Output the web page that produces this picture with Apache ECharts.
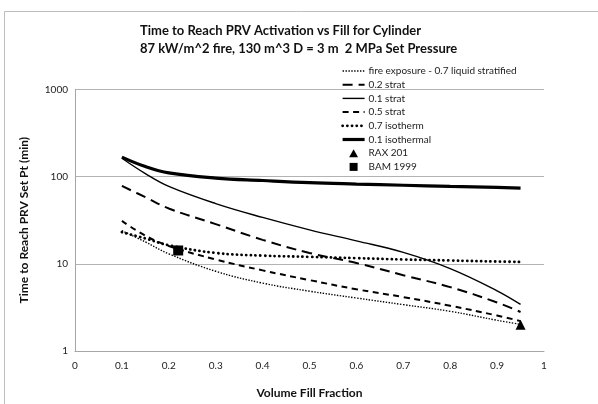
<!DOCTYPE html>
<html>
<head>
    <meta charset="utf-8">
    <title>Time to Reach PRV Activation vs Fill</title>
    <script src="https://cdn.jsdelivr.net/npm/echarts@6/dist/echarts.min.js"></script>
    <style>
        html, body { margin: 0; padding: 0; background: #fff; }
        #main { width: 598px; height: 404px; }
    </style>
</head>
<body>
<div id="main"></div>
<script>
    // 充填率 (x)
    var fill = [0.1, 0.15, 0.2, 0.3, 0.4, 0.5, 0.6, 0.7, 0.8, 0.9, 0.95];
    // 各曲线 (min)
    var fireExp07 = [24, 17.8, 13.0, 8.2, 6.0, 4.85, 4.05, 3.4, 2.85, 2.25, 2.02];
    var strat02 = [78, 58, 43, 28.5, 18.8, 13.3, 10.2, 7.4, 5.4, 3.6, 2.8];
    var strat01 = [162, 108, 77, 49, 34, 24.5, 18.3, 13.5, 8.8, 4.9, 3.42];
    var strat05 = [31, 21, 16, 11.2, 8.4, 6.5, 5.1, 4.15, 3.3, 2.55, 2.2];
    var iso07 = [23, 19.5, 16.3, 13.3, 12.4, 12.0, 11.6, 11.2, 10.9, 10.6, 10.5];
    var iso01 = [167, 130, 110, 96, 90, 85, 82, 79.5, 77, 75, 73.5];
    // 试验点
    var rax = [[0.95, 2.0]];
    var bam = [[0.22, 14.2]];
    var xTicks = ['0', '0.1', '0.2', '0.3', '0.4', '0.5', '0.6', '0.7', '0.8', '0.9', '1'];
    var names = [
        'fire exposure - 0.7 liquid stratified',
        '0.2 strat',
        '0.1 strat',
        '0.5 strat',
        '0.7 isotherm',
        '0.1 isothermal',
        'RAX 201',
        'BAM 1999'
    ];

    var FONT = 'Lato';

    // 线型
    var styles = [
        { width: 1.4, type: [1.4, 1.5], cap: 'butt' },
        { width: 2, type: [10, 6], cap: 'butt' },
        { width: 1.4, type: 'solid', cap: 'butt' },
        { width: 2, type: [6, 4.5], cap: 'butt' },
        { width: 2.8, type: [0.1, 4.6], cap: 'round' },
        { width: 3.2, type: 'solid', cap: 'butt' }
    ];

    function pairs(ys) {
        var out = [];
        for (var i = 0; i < fill.length; i++) {
            out.push([fill[i], ys[i]]);
        }
        return out;
    }

    function lineSeries(idx, ys) {
        var s = styles[idx];
        return {
            name: names[idx],
            type: 'line',
            data: pairs(ys),
            smooth: 0.4,
            symbol: 'none',
            itemStyle: { color: '#000' },
            lineStyle: { color: '#000', width: s.width, type: s.type, cap: s.cap }
        };
    }

    // 图例: 线条只显示线型, 散点用小图标
    var legendData = [];
    for (var k = 0; k < 6; k++) {
        legendData.push({
            name: names[k],
            itemStyle: { opacity: 0 },
            lineStyle: { color: '#000', width: styles[k].width, type: styles[k].type, cap: styles[k].cap }
        });
    }
    legendData.push({ name: names[6], icon: 'path://M5,0L10,9L0,9Z', itemStyle: { color: '#000' } });
    legendData.push({ name: names[7], icon: 'path://M0,0L9,0L9,9L0,9Z', itemStyle: { color: '#000' } });

    var myChart = echarts.init(document.getElementById('main'), null, { renderer: 'canvas' });

    var option = {
        animation: false,
        backgroundColor: '#fff',
        textStyle: { fontFamily: FONT },
        graphic: [
            {
                type: 'rect',
                shape: { x: 4.5, y: 11.5, width: 700, height: 500 },
                style: { fill: 'none', stroke: '#bdbdbd', lineWidth: 1 },
                silent: true
            },
            {
                type: 'text',
                left: 310 - 170, top: 22,
                style: {
                    text: 'Time to Reach PRV Activation vs Fill for Cylinder\n87 kW/m^2 fire, 130 m^3 D = 3 m  2 MPa Set Pressure',
                    font: 'bold 13px ' + FONT,
                    fill: '#111',
                    align: 'center',
                    lineHeight: 18,
                    width: 340
                }
            }
        ],
        legend: {
            orient: 'vertical',
            left: 341,
            top: 66,
            padding: 0,
            itemWidth: 22,
            itemHeight: 8,
            itemGap: 3.7,
            symbolKeepAspect: true,
            textStyle: { fontFamily: FONT, fontSize: 10, color: '#222', padding: [0, 0, 0, -1] },
            data: legendData
        },
        grid: { left: 75, right: 54, top: 89.3, bottom: 52.3, containLabel: false },
        xAxis: {
            type: 'value',
            min: 0,
            max: 1,
            interval: 0.1,
            name: 'Volume Fill Fraction',
            nameLocation: 'middle',
            nameGap: 36,
            nameTextStyle: { fontFamily: FONT, fontSize: 12, fontWeight: 'bold', color: '#111' },
            axisLine: { show: true, lineStyle: { color: '#a6a6a6', width: 1 } },
            axisTick: { show: false },
            splitLine: { show: false },
            axisLabel: {
                fontFamily: FONT, fontSize: 10, color: '#222', margin: 10,
                formatter: function (v) {
                    return xTicks[Math.round(v * 10)];
                }
            }
        },
        yAxis: {
            type: 'log',
            logBase: 10,
            min: 1,
            max: 1000,
            name: 'Time to Reach PRV Set Pt (min)',
            nameLocation: 'middle',
            nameGap: 45,
            nameTextStyle: { fontFamily: FONT, fontSize: 12, fontWeight: 'bold', color: '#111' },
            axisLine: { show: true, lineStyle: { color: '#a6a6a6', width: 1 } },
            axisTick: { show: false },
            splitLine: { show: true, lineStyle: { color: '#b3b3b3', width: 1 } },
            axisLabel: {
                fontFamily: FONT, fontSize: 10, color: '#222', margin: 7,
                formatter: function (v) { return String(Math.round(v)); }
            }
        },
        series: [
            lineSeries(0, fireExp07),
            lineSeries(1, strat02),
            lineSeries(2, strat01),
            lineSeries(3, strat05),
            lineSeries(4, iso07),
            lineSeries(5, iso01),
            {
                name: names[6],
                type: 'scatter',
                data: rax,
                symbol: 'triangle',
                symbolSize: 10,
                itemStyle: { color: '#000', opacity: 1 }
            },
            {
                name: names[7],
                type: 'scatter',
                data: bam,
                symbol: 'rect',
                symbolSize: 10,
                itemStyle: { color: '#000', opacity: 1 }
            }
        ]
    };

    myChart.setOption(option);
</script>
</body>
</html>
